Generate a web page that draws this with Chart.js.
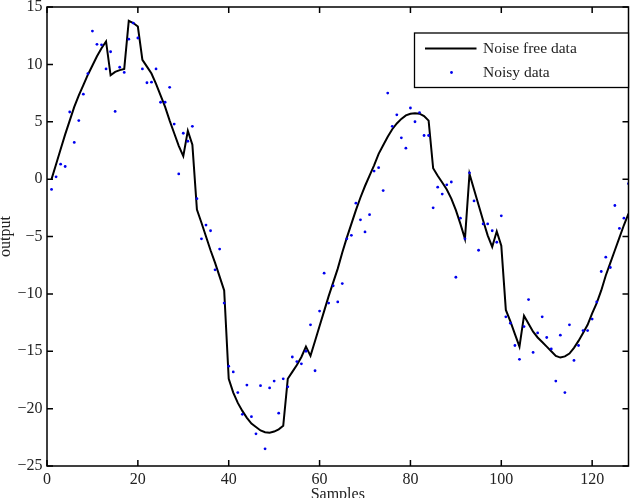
<!DOCTYPE html>
<html><head><meta charset="utf-8">
<script src="https://cdn.jsdelivr.net/npm/chart.js@4/dist/chart.umd.min.js"></script>
<style>html,body{margin:0;padding:0;background:#fff;}</style>
</head><body>
<canvas id="c" width="634" height="498"></canvas>
<script>
const samples = [1,2,3,4,5,6,7,8,9,10,11,12,13,14,15,16,17,18,19,20,21,22,23,24,25,26,27,28,29,30,31,32,33,34,35,36,37,38,39,40,41,42,43,44,45,46,47,48,49,50,51,52,53,54,55,56,57,58,59,60,61,62,63,64,65,66,67,68,69,70,71,72,73,74,75,76,77,78,79,80,81,82,83,84,85,86,87,88,89,90,91,92,93,94,95,96,97,98,99,100,101,102,103,104,105,106,107,108,109,110,111,112,113,114,115,116,117,118,119,120,121,122,123,124,125,126,127,128];
const noiseFree = [0.0,1.3,2.6,3.9,5.1,6.3,7.3,8.2,9.1,9.9,10.7,11.4,12.0,9.05,9.35,9.5,9.6,13.8,13.6,13.3,
  10.4,9.8,9.2,8.3,7.3,6.3,5.1,4.0,2.9,2.0,4.2,3.0,-2.65,-3.8,-5.0,-6.2,-7.3,-8.5,-9.7,-17.4,
  -18.6,-19.5,-20.2,-20.8,-21.3,-21.6,-21.9,-22.05,-22.1,-22.0,-21.8,-21.5,-17.4,-16.8,-16.2,-15.5,-14.6,-15.4,-14.1,-12.8,
  -11.5,-10.2,-9.0,-7.8,-6.4,-5.1,-3.9,-2.7,-1.6,-0.6,0.3,1.2,2.2,2.95,3.7,4.35,4.85,5.25,5.55,5.7,
  5.75,5.7,5.5,5.1,0.95,0.3,-0.3,-0.9,-1.7,-2.7,-3.9,-5.2,0.45,-0.9,-2.25,-3.6,-4.9,-5.9,-4.55,-5.8,
  -11.4,-12.4,-13.5,-14.6,-11.9,-12.6,-13.3,-13.8,-14.2,-14.6,-15.0,-15.4,-15.55,-15.45,-15.2,-14.7,-14.1,-13.4,-12.7,-11.7,
  -10.8,-9.7,-8.4,-7.3,-6.2,-5.1,-4.0,-3.0];
const noisy = [-0.9,0.2,1.3,1.1,5.85,3.2,5.1,7.4,9.2,12.9,11.75,11.7,9.6,11.1,5.9,9.75,9.3,12.2,13.6,12.3,
  9.6,8.4,8.45,9.6,6.7,6.7,8.0,4.8,0.45,4.0,3.3,4.6,-1.7,-5.2,-4.0,-4.5,-7.9,-6.1,-10.8,-16.3,
  -16.8,-18.6,-20.5,-17.95,-20.7,-22.2,-18.0,-23.5,-18.2,-17.6,-20.4,-17.4,-18.1,-15.5,-15.9,-16.1,-15.0,-12.7,-16.7,-11.5,
  -8.2,-10.8,-9.3,-10.7,-9.1,-5.2,-4.9,-2.1,-3.55,-4.6,-3.1,0.7,1.0,-1.0,7.5,4.6,5.6,3.6,2.7,6.2,
  5.0,5.8,3.8,3.8,-2.5,-0.7,-1.3,-0.5,-0.25,-8.55,-3.4,-5.2,0.55,-1.9,-6.2,-3.9,-3.9,-4.5,-5.5,-3.2,
  -12.0,-12.55,-14.5,-15.7,-12.85,-10.5,-15.1,-13.4,-12.0,-13.8,-14.8,-17.6,-13.6,-18.6,-12.7,-15.8,-14.5,-13.2,-13.2,-12.2,
  -10.7,-8.05,-6.8,-7.7,-2.3,-4.3,-3.4,-0.4];
const xTicks = [0,20,40,60,80,100,120];
const yTicks = [-25,-20,-15,-10,-5,0,5,10,15];
const seriesNames = ['Noise free data','Noisy data'];
const xTitle = 'Samples';
const yTitle = 'output';

const FONT = "'Liberation Serif', 'Times New Roman', serif";
const TEXT = '#222';

const framePlugin = {
  id: 'frame',
  afterDraw(chart) {
    const ctx = chart.ctx;
    const a = chart.chartArea;
    const xs = chart.scales.x, ys = chart.scales.y;
    ctx.save();
    ctx.strokeStyle = '#000';
    ctx.lineWidth = 1.5;
    ctx.strokeRect(a.left, a.top, a.right - a.left, a.bottom - a.top);
    ctx.beginPath();
    const tl = 6;
    xTicks.forEach(v => {
      const px = xs.getPixelForValue(v);
      ctx.moveTo(px, a.bottom); ctx.lineTo(px, a.bottom - tl);
      ctx.moveTo(px, a.top); ctx.lineTo(px, a.top + tl);
    });
    yTicks.forEach(v => {
      const py = ys.getPixelForValue(v);
      ctx.moveTo(a.left, py); ctx.lineTo(a.left + tl, py);
      ctx.moveTo(a.right, py); ctx.lineTo(a.right - tl, py);
    });
    ctx.stroke();
    // legend
    const lx = 414.5, ly = 33, lw = a.right - 414.5, lh = 54.5;
    ctx.fillStyle = '#fff';
    ctx.fillRect(lx, ly, lw, lh);
    ctx.lineWidth = 1.3;
    ctx.strokeRect(lx, ly, lw, lh);
    ctx.beginPath();
    ctx.lineWidth = 2;
    ctx.moveTo(425, 48.5); ctx.lineTo(476.5, 48.5);
    ctx.stroke();
    ctx.fillStyle = '#0000ee';
    ctx.beginPath(); ctx.arc(451.5, 72.5, 1.4, 0, Math.PI * 2); ctx.fill();
    ctx.fillStyle = TEXT;
    ctx.font = "15.5px " + FONT;
    ctx.textAlign = 'left';
    ctx.textBaseline = 'middle';
    ctx.fillText(seriesNames[0], 483, 48.5);
    ctx.fillText(seriesNames[1], 483, 72.5);
    // axis titles
    ctx.font = "16px " + FONT;
    ctx.textAlign = 'center';
    ctx.textBaseline = 'alphabetic';
    ctx.fillText(xTitle, (a.left + a.right) / 2, 499);
    ctx.save();
    ctx.translate(10, (a.top + a.bottom) / 2);
    ctx.rotate(-Math.PI / 2);
    ctx.fillText(yTitle, 0, 0);
    ctx.restore();
    ctx.restore();
  }
};

new Chart(document.getElementById('c'), {
  type: 'scatter',
  data: {
    datasets: [
      {
        label: seriesNames[1],
        data: samples.map((x, i) => ({x, y: noisy[i]})),
        backgroundColor: '#0000ee',
        borderWidth: 0,
        pointRadius: 1.4,
        pointHoverRadius: 1.4
      },
      {
        type: 'line',
        label: seriesNames[0],
        data: samples.map((x, i) => ({x, y: noiseFree[i]})),
        borderColor: '#000',
        borderWidth: 2,
        pointRadius: 0,
        tension: 0,
        fill: false
      }
    ]
  },
  options: {
    responsive: false,
    animation: false,
    devicePixelRatio: 1,
    layout: { padding: { top: 7, right: 5.5, left: 0, bottom: 0 } },
    plugins: { legend: { display: false }, tooltip: { enabled: false } },
    scales: {
      x: {
        type: 'linear', min: 0, max: 128, position: 'bottom',
        grid: { display: false, drawTicks: false },
        border: { display: false },
        afterBuildTicks: s => { s.ticks = xTicks.map(v => ({ value: v })); },
        afterFit: s => { s.height = 32; s.paddingLeft = 0; s.paddingRight = 0; },
        ticks: { font: { family: FONT, size: 16 }, color: TEXT, padding: 4, maxRotation: 0, autoSkip: false }
      },
      y: {
        type: 'linear', min: -25, max: 15,
        grid: { display: false, drawTicks: false },
        border: { display: false },
        afterBuildTicks: s => { s.ticks = yTicks.map(v => ({ value: v })); },
        afterFit: s => { s.width = 47; s.paddingTop = 0; s.paddingBottom = 0; },
        ticks: { font: { family: FONT, size: 16 }, color: TEXT, padding: 4.5,
          callback: v => (v < 0 ? '\u2212' + Math.abs(v) : String(v)) }
      }
    }
  },
  plugins: [framePlugin]
});
</script>
</body></html>
